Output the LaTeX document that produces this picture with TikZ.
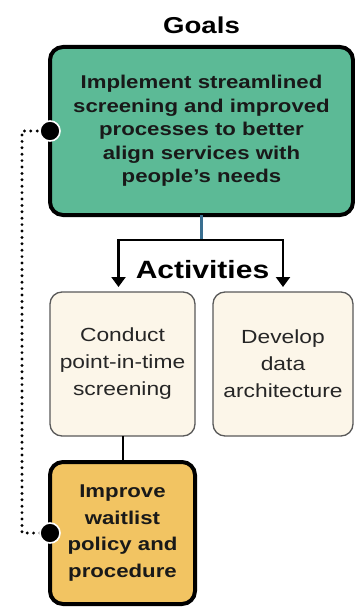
\documentclass[tikz,border=0pt]{standalone}
\usepackage{fontspec}
\setmainfont{Liberation Sans}[FakeStretch=1.2]
\usetikzlibrary{positioning, arrows.meta}

\definecolor{goalgreen}{HTML}{5CBA96}
\definecolor{actcream}{HTML}{FCF6E9}
\definecolor{plangold}{HTML}{F2C462}
\definecolor{stemblue}{HTML}{3A6F90}

\begin{document}
\begin{tikzpicture}[
    goalbox/.style={draw, line width=4pt, rounded corners=13pt, outer sep=0pt, align=center,
      font=\bfseries\fontsize{18.5}{23.5}\selectfont, text=black!90},
    actbox/.style={draw=black!65, line width=1.3pt, rounded corners=12pt, fill=actcream,
      outer sep=0pt, align=center, minimum width=145pt, minimum height=144pt,
      font=\fontsize{19}{27}\selectfont, text=black!85},
    heading/.style={font=\bfseries\fontsize{23}{26}\selectfont},
    branch/.style={draw, line width=2.2pt, -{Triangle[width=14pt,length=10pt]}},
    dotline/.style={draw, line width=3.2pt, line cap=round, dash pattern=on 0pt off 6.4pt},
    bigdot/.style={fill=black, draw=white, line width=1.6pt}
  ]
  \useasboundingbox (0,0) rectangle (355pt,-607pt);

  \node[goalbox, fill=goalgreen, minimum width=303pt, minimum height=168pt] (goal) at (201.5pt,-131pt)
    {Implement streamlined\\screening and improved\\processes to better\\align services with\\people's needs};
  \node[heading, above=10pt of goal] (goals) {Goals};

  \node[actbox, below right=77pt and 0pt of goal.south west] (conduct)
    {Conduct\\point-in-time\\screening};
  \node[actbox, right=18pt of conduct, minimum width=140pt] (develop)
    {Develop\\data\\architecture};
  \node[goalbox, fill=plangold, below=26pt of conduct, minimum width=145pt, minimum height=142pt,
    font=\bfseries\fontsize{18.5}{26.7}\selectfont] (improve)
    {Improve\\waitlist\\policy and\\procedure};

  \coordinate[below=25pt of goal.south] (split);
  \node[heading, font=\bfseries\fontsize{25}{28}\selectfont] (acts) at ([xshift=1pt,yshift=-30pt]split) {Activities};

  \path[draw, line width=2.2pt, stemblue] (goal.south) -- (split);
  \path[branch, shorten >=5pt] (split) -| ([xshift=-4pt]conduct.north);
  \path[branch, shorten >=5pt] (split) -| (develop.north);
  \path[draw, line width=2pt] (conduct.south) -- (improve.north);

  % dotted link between the goal and the plan
  \path[dotline] (goal.west) -- ++(-28pt,0) |- (improve.west);
  \path[bigdot] (goal.west) circle (10pt);
  \path[bigdot] (improve.west) circle (10pt);

\end{tikzpicture}
\end{document}
